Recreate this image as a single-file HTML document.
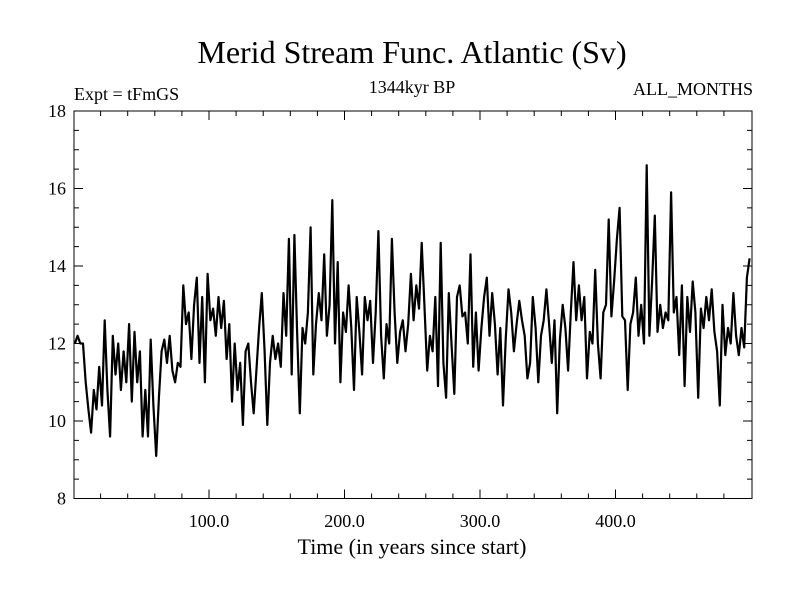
<!DOCTYPE html>
<html><head><meta charset="utf-8"><style>
body{margin:0;background:#fff;}
svg{display:block;font-family:"Liberation Serif",serif;}
</style></head><body>
<svg id="chart" width="800" height="600">
<rect width="800" height="600" fill="#fff"/>
<text x="412" y="63" font-size="32" text-anchor="middle">Merid Stream Func. Atlantic (Sv)</text>
<text x="74" y="100" font-size="18">Expt = tFmGS</text>
<text x="412" y="93" font-size="18" text-anchor="middle">1344kyr BP</text>
<text x="753" y="95" font-size="18" text-anchor="end">ALL_MONTHS</text>
<text x="412" y="554" font-size="22" text-anchor="middle">Time (in years since start)</text>
<g id="axes"></g>
<path id="series" fill="none" stroke="#000" stroke-width="2.2" stroke-linejoin="round"/>
<rect x="74" y="111" width="678" height="387.5" fill="none" stroke="#000" stroke-width="1"/>
</svg>
<script>
const years = [];
for (let y = 0; y < 500; y += 2) years.push(y);
const values = [
12.0,12.2,12.0,12.0,11.0,10.3,9.7,10.8,10.3,11.4,10.4,12.6,10.8,9.6,12.2,11.2,12.0,10.8,11.8,11.0,12.5,10.5,12.3,11.0,11.8,
9.6,10.8,9.6,12.1,10.4,9.1,10.6,11.8,12.1,11.5,12.2,11.3,11.0,11.5,11.4,13.5,12.5,12.8,11.6,13.0,13.7,11.5,13.2,11.0,13.8,
12.6,12.9,12.2,13.2,12.4,13.1,11.6,12.5,10.5,12.0,10.8,11.5,9.9,11.8,12.0,11.0,10.2,11.3,12.4,13.3,11.8,9.9,11.5,12.2,11.6,
12.0,11.4,13.3,12.2,14.7,11.2,14.8,12.3,10.2,12.4,12.0,12.8,15.0,11.2,12.5,13.3,12.6,14.3,12.2,13.0,15.7,12.0,14.1,11.0,12.8,
12.3,13.5,12.4,10.8,13.2,12.3,11.2,13.2,12.6,13.1,11.5,12.8,14.9,12.2,11.1,12.5,12.0,14.7,12.8,11.5,12.3,12.6,11.8,12.5,13.8,
12.6,13.5,12.9,14.6,13.0,11.3,12.2,11.8,13.2,10.9,14.6,11.5,10.6,13.3,12.0,10.7,13.2,13.5,12.7,12.8,12.0,14.3,11.4,12.8,11.3,
12.4,13.2,13.7,12.2,13.3,12.5,11.2,12.4,10.4,12.1,13.4,12.8,11.8,12.5,13.1,12.6,12.2,11.1,11.5,13.2,12.4,11.0,12.2,12.6,13.4,
12.5,11.5,12.6,10.2,12.1,13.0,12.4,11.3,12.8,14.1,12.6,13.5,12.6,13.2,11.1,12.3,12.0,13.9,12.0,11.1,12.8,13.0,15.2,12.7,13.6,
14.7,15.5,12.7,12.6,10.8,12.5,12.8,13.7,12.2,13.0,12.0,16.6,12.2,13.6,15.3,12.3,13.0,12.4,12.8,12.6,15.9,12.8,13.2,11.7,13.5,
10.9,13.2,12.3,13.6,12.8,10.6,12.9,12.4,13.2,12.6,13.4,12.3,11.8,10.4,13.0,11.7,12.4,12.0,13.3,12.2,11.7,12.4,11.9,13.7,14.2];
const xTicks = [100, 200, 300, 400];
const xTickLabels = ["100.0", "200.0", "300.0", "400.0"];
const yTicks = [8, 10, 12, 14, 16, 18];

const X0 = 73.5, XS = 1.355, Y0 = 498.5, YS = 38.75;
const xs = v => X0 + v * XS;
const ys = v => Y0 - (v - 8) * YS;
const NS = "http://www.w3.org/2000/svg";
const axes = document.getElementById('axes');
function line(x1,y1,x2,y2){const l=document.createElementNS(NS,'line');l.setAttribute('x1',x1);l.setAttribute('y1',y1);l.setAttribute('x2',x2);l.setAttribute('y2',y2);l.setAttribute('stroke','#000');l.setAttribute('stroke-width','1');axes.appendChild(l);return l;}
function text(x,y,s,anchor){const t=document.createElementNS(NS,'text');t.setAttribute('x',x);t.setAttribute('y',y);t.setAttribute('font-size','18');t.setAttribute('text-anchor',anchor);t.textContent=s;axes.appendChild(t);return t;}
for (let v = 20; v < 500; v += 20) {
  const major = v % 100 === 0;
  const tk = line(xs(v), Y0, xs(v), Y0 - (major ? 9 : 5));
  
  
  const tk2 = line(xs(v), 111, xs(v), 111 + (major ? 9 : 5));
  
  
}
xTicks.forEach((v, i) => {
  const t = text(xs(v), 527, xTickLabels[i], 'middle');
  
  
});
for (let v = 8.5; v < 18; v += 0.5) {
  const major = v % 2 === 0;
  const tk = line(74, ys(v), 74 + (major ? 9 : 5), ys(v));
  
  
  const tk2 = line(752, ys(v), 752 - (major ? 9 : 5), ys(v));
  
  
}
yTicks.forEach(v => {
  const t = text(66, ys(v) + 6, String(v), 'end');
  
  
});
let d = '';
values.forEach((v, i) => { d += (i ? 'L' : 'M') + xs(years[i] + 1).toFixed(1) + ' ' + ys(v).toFixed(1); });
document.getElementById('series').setAttribute('d', d);
</script>
</body></html>
